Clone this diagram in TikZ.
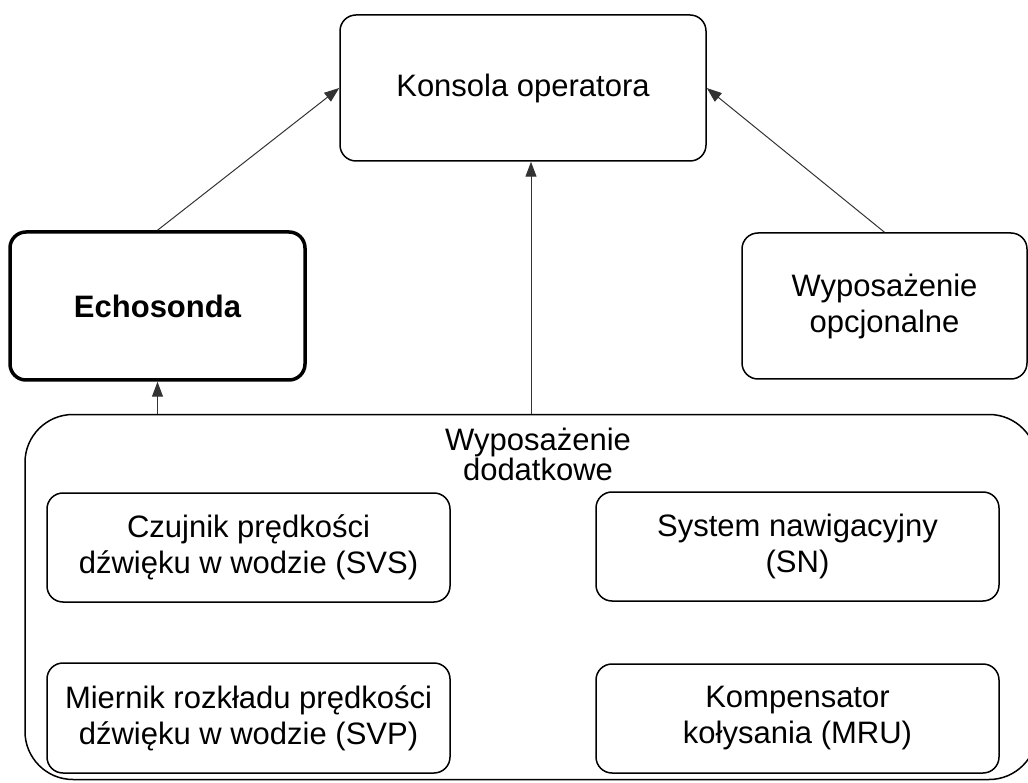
\documentclass[tikz,border=0pt]{standalone}
\usepackage{fontspec}
\setmainfont{Liberation Sans}
\usetikzlibrary{arrows.meta}
\tikzset{
  box/.style={draw=black,line width=1.5pt,rounded corners=16pt,align=center,inner sep=0pt},
  link/.style={draw=black!80,line width=1pt,-{Triangle[length=15pt,width=11pt]}}
}
\begin{document}
\begin{tikzpicture}[x=1pt,y=-1pt,font=\fontsize{31}{36}\selectfont]
    \useasboundingbox (0,0) rectangle (1028,783);
    \node[box,minimum width=366pt,minimum height=146pt] (konsola) at (523,88) {Konsola operatora};
    \node[box,line width=3.5pt,minimum width=295pt,minimum height=148pt] (echosonda) at (157.5,306) {\bfseries Echosonda};
    \node[box,minimum width=285pt,minimum height=146pt] (opcjonalne) at (884.5,306) {Wyposażenie\\opcjonalne};
    \node[box,rounded corners=48pt,minimum width=1012pt,minimum height=365pt] (dodatkowe) at (531,597) {};
    \node[align=center,anchor=north,inner sep=0pt,font=\fontsize{31}{30}\selectfont] (dodatkoweTekst) at (538,428) {Wyposażenie\\dodatkowe};
    \node[box,minimum width=403pt,minimum height=109pt] (czujnik) at (248.5,547.5) {Czujnik prędkości\\dźwięku w wodzie (SVS)};
    \node[box,minimum width=403pt,minimum height=110pt] (miernik) at (248.5,718) {Miernik rozkładu prędkości\\dźwięku w wodzie (SVP)};
    \node[box,minimum width=403pt,minimum height=109pt] (nawigacja) at (797.5,546.5) {System nawigacyjny\\(SN)};
    \node[box,minimum width=403pt,minimum height=109pt] (kompensator) at (797.5,718.5) {Kompensator\\kołysania (MRU)};
    \draw[link] (echosonda.north) -- (konsola.west);
    \draw[link] (opcjonalne.north) -- (konsola.east);
    \draw[link] (dodatkowe.north) -- (dodatkowe.north |- konsola.south);
    \draw[link] (echosonda.south |- dodatkowe.north) -- (echosonda.south);
\end{tikzpicture}
\end{document}
